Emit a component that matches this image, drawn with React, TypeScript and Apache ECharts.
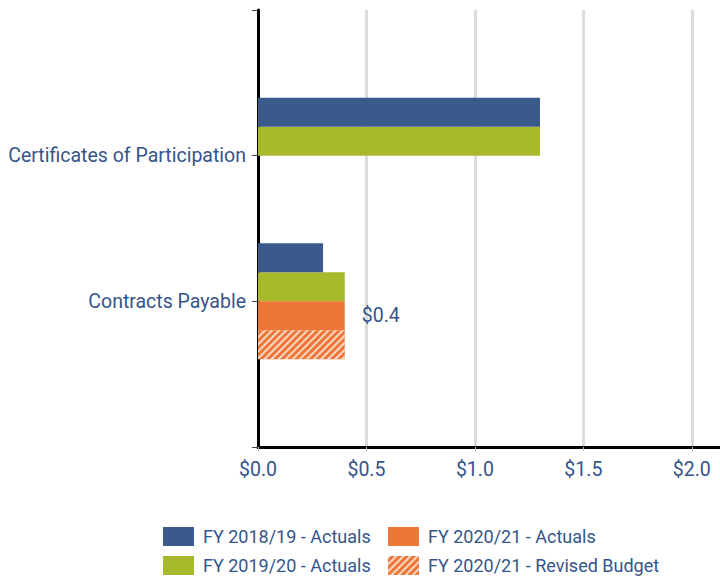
import React, { useEffect, useRef } from "react";
import * as echarts from "echarts";

const categories = ["", "Certificates of Participation", "Contracts Payable", " "];
const seriesNames = [
  "FY 2018/19 - Actuals",
  "FY 2019/20 - Actuals",
  "FY 2020/21 - Actuals",
  "FY 2020/21 - Revised Budget",
];
const fy1819 = [null, 1.3, 0.3, null];
const fy1920 = [null, 1.3, 0.4, null];
const fy2021 = [null, null, 0.4, null];
const fy2021Budget = [null, null, 0.4, null];
const labelledValue = "$0.4";
const xTicks = [0.5, 1.0, 1.5, 2.0];

const BLUE = "#3a5a8c";
const GREEN = "#a8b92b";
const ORANGE = "#ee7738";
const TEXT = "#34558b";
const FONT = "Roboto";

export default function App() {
  const ref = useRef<HTMLDivElement>(null);
  useEffect(() => {
    if (!ref.current) return;
    const chart = echarts.init(ref.current, null, { renderer: "svg" });
    const hatch = {
      symbol: "rect",
      symbolSize: 1,
      color: "rgba(255,255,255,0.7)",
      dashArrayX: [1, 0],
      dashArrayY: [1.5, 2.5],
      rotation: -Math.PI / 4,
    };
    const bar = (name: string, data: any[], color: string) => ({
      type: "bar",
      name,
      data,
      barWidth: 29,
      barGap: "0%",
      itemStyle: { color },
    });
    const legendBase = {
      orient: "vertical",
      top: 527,
      height: 60,
      padding: 0,
      itemWidth: 31,
      itemHeight: 19,
      itemGap: 10,
      icon: "rect",
      textStyle: {
        color: TEXT,
        fontSize: 18,
        fontFamily: FONT,
        lineHeight: 19,
        padding: [0, 0, 0, 4],
      },
      selectedMode: false,
    };
    chart.setOption({
      animation: false,
      textStyle: { fontFamily: FONT },
      grid: { left: 258, top: 10, right: 0, bottom: 131, containLabel: false },
      legend: [
        { ...legendBase, data: [seriesNames[0], seriesNames[1]], left: 163 },
        { ...legendBase, data: [seriesNames[2], seriesNames[3]], left: 388 },
      ],
      xAxis: {
        type: "value",
        min: 0,
        max: 2.13,
        interval: 0.5,
        axisLine: { show: true, lineStyle: { color: "#000", width: 3 } },
        axisTick: { show: true, length: 4, lineStyle: { color: "#bbb", width: 1 } },
        splitLine: { show: false },
        axisLabel: {
          showMaxLabel: false,
          margin: 12,
          color: TEXT,
          fontSize: 19.5,
          fontFamily: FONT,
          formatter: (v: number) => "$" + v.toFixed(1),
        },
      },
      yAxis: {
        type: "category",
        data: categories,
        inverse: true,
        boundaryGap: false,
        axisLine: { show: true, lineStyle: { color: "#000", width: 3 } },
        axisTick: { show: true, length: 6, lineStyle: { color: "#444", width: 1 } },
        axisLabel: { margin: 12, color: TEXT, fontSize: 19.5, fontFamily: FONT },
        splitLine: { show: false },
      },
      series: [
        {
          ...bar(seriesNames[0], fy1819, BLUE),
          markLine: {
            silent: true,
            symbol: "none",
            label: { show: false },
            lineStyle: { color: "#dcdcdc", width: 3, type: "solid" },
            data: xTicks.map((v) => ({ xAxis: v })),
            z: 0,
          },
          z: 3,
        },
        bar(seriesNames[1], fy1920, GREEN),
        {
          ...bar(seriesNames[2], fy2021, ORANGE),
          label: {
            show: true,
            position: "right",
            distance: 17,
            color: TEXT,
            fontSize: 19.5,
            fontFamily: FONT,
            formatter: () => labelledValue,
          },
        },
        {
          ...bar(seriesNames[3], fy2021Budget, ORANGE),
          itemStyle: { color: ORANGE, decal: hatch },
        },
      ],
    });
    return () => chart.dispose();
  }, []);
  return (
    <div
      ref={ref}
      style={{ position: "absolute", left: 0, top: 0, width: 720, height: 578 }}
    />
  );
}
